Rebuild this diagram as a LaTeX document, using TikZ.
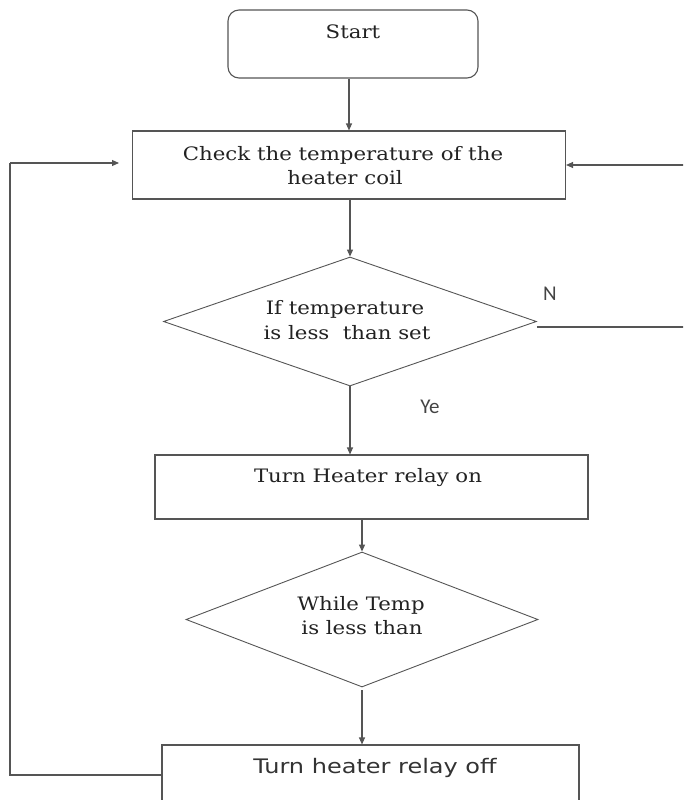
\documentclass[tikz,border=0pt]{standalone}
\usepackage{fontspec}
\usetikzlibrary{shapes.geometric,arrows.meta,calc}
\newfontfamily\serfont[FakeStretch=1.15]{DejaVu Serif}
\newfontfamily\sansfont[FakeStretch=1.2]{DejaVu Sans}
\newfontfamily\calfont{Carlito}
\definecolor{ln}{HTML}{555555}
\definecolor{tx}{HTML}{222222}
\tikzset{
  box/.style={draw=ln,line width=1.1pt,minimum width=#1,inner sep=0pt},
  dia/.style={draw=ln,line width=0.9pt,shape=diamond,inner sep=0pt},
  arr/.style={draw=ln,line width=1.1pt,-{Triangle[length=7pt,width=6pt]}},
  conn/.style={draw=ln,line width=1.1pt},
  stxt/.style={text=tx,font=\serfont\fontsize{18.5}{23}\selectfont,align=center,inner sep=0pt,anchor=base},
  ntxt/.style={text=ln!80!black,font=\calfont\fontsize{21}{24}\selectfont,inner sep=0pt,anchor=base},
}
\begin{document}
\begin{tikzpicture}[x=1pt,y=-1pt]
\useasboundingbox (0,0) rectangle (683,800);
\clip (0,0) rectangle (683,800);
% nodes
\node[box=250pt,minimum height=68pt,rounded corners=11pt] (start) at (353,44) {};
\node[stxt] (starttx) at (353,38) {Start};
\node[box=433pt,minimum height=68pt] (check) at (349,165) {};
\node[stxt] (checktx1) at (343,160) {Check the temperature of the};
\node[stxt] (checktx2) at (345,184) {heater coil};
\node[dia,minimum width=373pt,minimum height=129pt] (d1) at (350,321.5) {};
\node[stxt] (d1tx1) at (345,314) {If temperature};
\node[stxt] (d1tx2) at (347,339) {is less\ \ than set};
\node[box=433pt,minimum height=64pt] (heat) at (371.5,487) {};
\node[stxt] (heattx) at (368,482) {Turn Heater relay on};
\node[dia,minimum width=352pt,minimum height=135pt] (d2) at (362,619.5) {};
\node[stxt] (d2tx1) at (361,610) {While Temp};
\node[stxt] (d2tx2) at (362,634) {is less than};
\node[box=417pt,minimum height=60pt] (off) at (370.5,775) {};
\node[text=ln!60!black,font=\sansfont\fontsize{20}{24}\selectfont,inner sep=0pt,anchor=base] (offtx) at (375,773) {Turn heater relay off};
\node[ntxt] (nlab) at (550,300) {N};
\node[ntxt] (ylab) at (430,413) {Ye};
% helper coordinates
\coordinate (loopL) at (10,163);
\coordinate (loopEnd) at (119,163);
\coordinate (rightN) at (695,327);
% connectors
\draw[arr] (check.north |- start.south) -- (check.north);
\draw[arr] (d1.north |- check.south) -- (d1.north);
\draw[arr] (d1.south) -- (d1.south |- heat.north);
\draw[arr] (d2.north |- heat.south) -- (d2.north);
\draw[arr] (d2.south) ++(0,3) -- (d2.south |- off.north);
\draw[conn] (off.west) -| (loopL);
\draw[arr] (loopL) -- (loopEnd);
\draw[conn] (d1.east |- rightN) -- (rightN);
\draw[arr] (rightN) |- (check.east);
\end{tikzpicture}
\end{document}
